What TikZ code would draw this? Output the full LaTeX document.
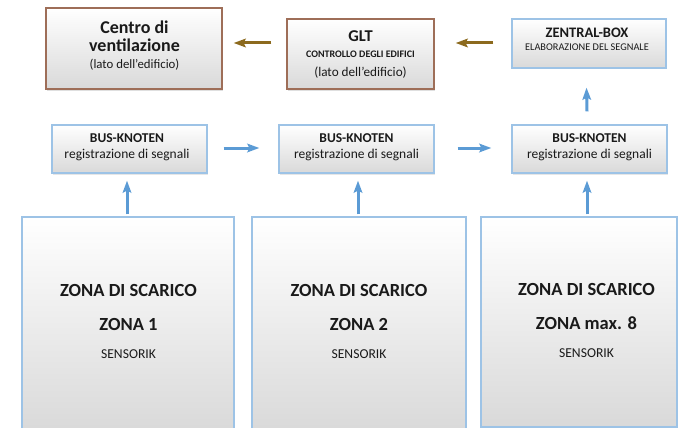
\documentclass[tikz,border=0pt]{standalone}
\usepackage{fontspec}
\setmainfont{Carlito}
\usetikzlibrary{arrows.meta,shadows}
\definecolor{brborder}{HTML}{9E6E58}
\definecolor{blborder}{HTML}{9DC3E6}
\definecolor{brarrowc}{HTML}{8C6A1E}
\definecolor{blarrowc}{HTML}{5B9BD5}
\definecolor{boxgray}{HTML}{D9D9D9}
\definecolor{txt}{HTML}{1A1A1A}
\tikzset{
  basebox/.style={rectangle, inner sep=0pt,
    top color=white, bottom color=boxgray, line width=1.3pt},
  brbox/.style={basebox, draw=brborder,
    drop shadow={shadow xshift=1.2pt, shadow yshift=-1.5pt, opacity=0.25}},
  blbox/.style={basebox, draw=blborder,
    drop shadow={shadow xshift=1.2pt, shadow yshift=-1.5pt, opacity=0.2}},
  zonebox/.style={basebox, draw=blborder, line width=1.5pt},
  lbl/.style={anchor=base, inner sep=0pt, text=txt},
  brarrow/.style={draw=brarrowc, line width=3pt, -{Stealth[length=12pt,width=8.5pt,inset=2pt]}},
  blarrow/.style={draw=blarrowc, line width=3pt, -{Stealth[length=12pt,width=8.5pt,inset=2pt]}},
}
\newcommand{\fs}[1]{\fontsize{#1}{#1}\selectfont}
\begin{document}
\begin{tikzpicture}[x=1pt,y=-1pt]
\useasboundingbox (0,0) rectangle (680,428);
% top row boxes
\node[brbox, minimum width=176pt, minimum height=81pt] (centro) at (134,48.5) {};
\node[brbox, minimum width=147pt, minimum height=70pt] (glt) at (360.5,54) {};
\node[blbox, minimum width=154pt, minimum height=49pt] (zentral) at (589,43.5) {};
% bus row
\node[blbox, minimum width=155pt, minimum height=48pt] (bus1) at (129.5,149) {};
\node[blbox, minimum width=155pt, minimum height=48pt] (bus2) at (356.5,149) {};
\node[blbox, minimum width=155pt, minimum height=48pt] (bus3) at (589.5,149) {};
% zones
\node[zonebox, minimum width=212pt, minimum height=216pt] (zone1) at (128,325) {};
\node[zonebox, minimum width=214pt, minimum height=216pt] (zone2) at (359,325) {};
\node[zonebox, minimum width=196pt, minimum height=210pt] (zone3) at (579,322) {};
% texts
\node[lbl] (centroA) at (134.5,34) {\fs{18}\bfseries Centro di};
\node[lbl] (centroB) at (134.5,52) {\fs{18}\bfseries ventilazione};
\node[lbl] (centroC) at (134.5,68) {\fs{12.8}(lato dell'edificio)};
\node[lbl] (gltA) at (360.5,42) {\fs{16.5}\bfseries GLT};
\node[lbl] (gltB) at (360.5,57.5) {\fs{10}\bfseries CONTROLLO DEGLI EDIFICI};
\node[lbl] (gltC) at (360.5,77) {\fs{13.2}(lato dell'edificio)};
\node[lbl] (zentralA) at (587,38) {\fs{14.5}\bfseries ZENTRAL-BOX};
\node[lbl] (zentralB) at (587,50.5) {\fs{10.3}ELABORAZIONE DEL SEGNALE};
\foreach \b/\x in {bus1/127, bus2/356.5, bus3/589.5}{
  \node[lbl] (\b A) at (\x,142) {\fs{13.5}\bfseries BUS-KNOTEN};
  \node[lbl] (\b B) at (\x,158) {\fs{13.5}registrazione di segnali};
}
\node[lbl] (zone1A) at (128.5,296) {\fs{18.5}\bfseries ZONA DI SCARICO};
\node[lbl] (zone1B) at (128.5,330) {\fs{18.5}\bfseries ZONA 1};
\node[lbl] (zone1C) at (128.5,358) {\fs{13.6}SENSORIK};
\node[lbl] (zone2A) at (359,296) {\fs{18.5}\bfseries ZONA DI SCARICO};
\node[lbl] (zone2B) at (359,330) {\fs{18.5}\bfseries ZONA 2};
\node[lbl] (zone2C) at (359,358) {\fs{13.6}SENSORIK};
\node[lbl] (zone3A) at (586.5,295) {\fs{18.5}\bfseries ZONA DI SCARICO};
\node[lbl] (zone3B) at (586.5,329) {\fs{18.5}\bfseries ZONA max. 8};
\node[lbl] (zone3C) at (586.5,357) {\fs{13.6}SENSORIK};
% arrows
\draw[brarrow] ([shift={(-15,-11)}]glt.west) -- ([shift={(11,-5.5)}]centro.east);
\draw[brarrow] ([shift={(-18,-0.5)}]zentral.west) -- ([shift={(21,-11)}]glt.east);
\draw[blarrow] ([shift={(-2.5,-13)}]bus3.north) -- ([shift={(-2.5,19)}]zentral.south);
\draw[blarrow] ([shift={(16,-1)}]bus1.east) -- ([shift={(-19,-1)}]bus2.west);
\draw[blarrow] ([shift={(23,-1)}]bus2.east) -- ([shift={(-20,-1)}]bus3.west);
\draw[blarrow] ([shift={(-2.5,-2)}]zone1.north -| bus1.south) -- ([shift={(-2.5,7)}]bus1.south);
\draw[blarrow] ([shift={(1.5,-2)}]zone2.north -| bus2.south) -- ([shift={(1.5,7)}]bus2.south);
\draw[blarrow] ([shift={(-2.5,-2)}]zone3.north -| bus3.south) -- ([shift={(-2.5,7)}]bus3.south);
\end{tikzpicture}
\end{document}
